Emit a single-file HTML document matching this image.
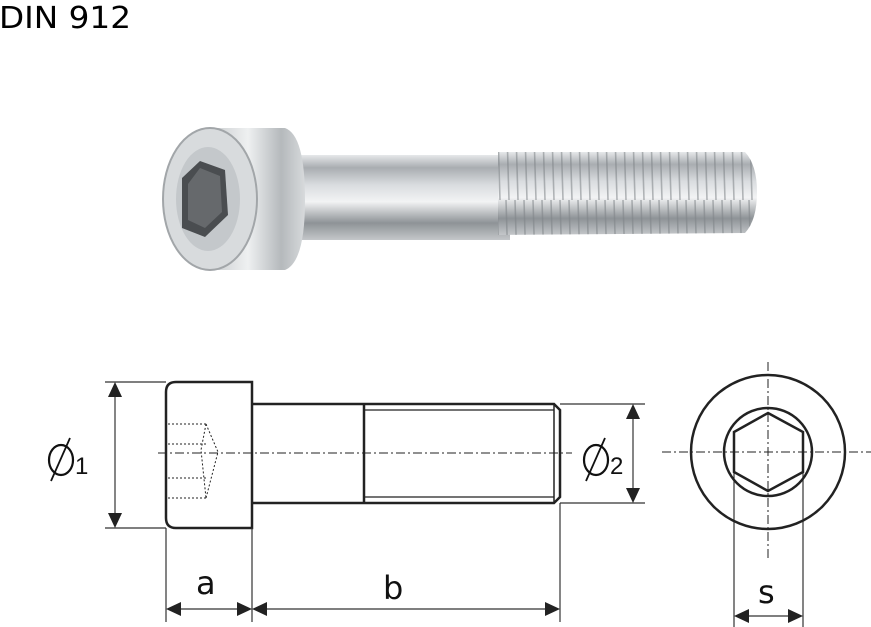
<!DOCTYPE html>
<html><head><meta charset="utf-8"><style>
html,body{margin:0;padding:0;background:#fff;}
body{width:871px;height:627px;overflow:hidden;position:relative;}
svg{position:absolute;left:0;top:0;}
</style></head><body>
<svg width="871" height="627" viewBox="0 0 871 627" xmlns="http://www.w3.org/2000/svg" font-family="DejaVu Sans, Liberation Sans, sans-serif">
<defs>
<linearGradient id="gv" x1="0" y1="0" x2="0" y2="1">
<stop offset="0" stop-color="#e6e8ea"/><stop offset="0.15" stop-color="#a9adb1"/><stop offset="0.35" stop-color="#d9dcdf"/><stop offset="0.55" stop-color="#f2f3f4"/><stop offset="0.8" stop-color="#8e9397"/><stop offset="1" stop-color="#c4c7ca"/>
</linearGradient>
<linearGradient id="gh" x1="0" y1="0" x2="1" y2="0">
<stop offset="0" stop-color="#c9ccce"/><stop offset="0.4" stop-color="#eef0f1"/><stop offset="0.75" stop-color="#b5b9bc"/><stop offset="1" stop-color="#d7dadc"/>
</linearGradient>
<pattern id="thr" width="9" height="100" patternUnits="userSpaceOnUse">
<rect width="9" height="100" fill="none"/><path d="M2 0 L5 100" stroke="#7d8286" stroke-width="1.6" opacity="0.55"/>
</pattern>
</defs>
<text x="-1" y="28" font-size="30" fill="#000" textLength="132" lengthAdjust="spacingAndGlyphs">DIN 912</text>

<!-- photo -->
<rect x="300" y="155" width="210" height="85" fill="url(#gv)"/>
<path d="M498 152 L745 152 Q757 165 757 192 Q757 220 745 233 L498 235 Z" fill="url(#gv)"/>
<path d="M498 152 L745 152 Q757 165 757 192 Q757 220 745 233 L498 235 Z" fill="url(#thr)"/>
<path d="M210 128 L285 128 Q305 135 305 200 Q305 262 285 270 L210 270 Z" fill="url(#gh)"/>
<ellipse cx="210" cy="199" rx="47" ry="71" fill="#d8dbdd" stroke="#a2a6a9" stroke-width="2"/>
<ellipse cx="208" cy="199" rx="32" ry="52" fill="#c4c8cb"/>
<polygon points="200,161 225,170 228,215 205,237 182,228 182,178" fill="#4a4d50"/>
<polygon points="200,168 220,176 222,212 205,228 188,220 188,184" fill="#66696c"/>

<!-- side view -->
<g stroke="#222" fill="none">
<path d="M176 382 L252 382 L252 528 L176 528 Q166 528 166 518 L166 392 Q166 382 176 382 Z" stroke-width="2.5"/>
<path d="M252 404 L554 404 L560 410 L560 497 L554 503 L252 503" stroke-width="2.5"/>
<line x1="364" y1="404" x2="364" y2="503" stroke-width="2.5"/>
<line x1="364" y1="410" x2="554" y2="410" stroke-width="1.2"/>
<line x1="364" y1="497" x2="554" y2="497" stroke-width="1.2"/>
<line x1="554" y1="404" x2="554" y2="503" stroke-width="1.5"/>
<g stroke-width="1" stroke-dasharray="2,2">
<line x1="168" y1="424" x2="206" y2="424"/><line x1="168" y1="444" x2="206" y2="444"/>
<line x1="168" y1="478" x2="206" y2="478"/><line x1="168" y1="498" x2="206" y2="498"/>
<path d="M206 424 L218 452 L206 498 M206 424 L201 450 L206 498"/>
</g>
<line x1="158" y1="453" x2="572" y2="453" stroke-width="1" stroke-dasharray="9,3,2,3"/>
<g stroke-width="1.2" stroke="#333">
<line x1="105" y1="382" x2="166" y2="382"/><line x1="105" y1="528" x2="166" y2="528"/>
<line x1="115" y1="392" x2="115" y2="518"/>
<line x1="560" y1="404" x2="645" y2="404"/><line x1="560" y1="503" x2="645" y2="503"/>
<line x1="633" y1="414" x2="633" y2="493"/>
<line x1="166" y1="528" x2="166" y2="622"/><line x1="252" y1="528" x2="252" y2="622"/><line x1="560" y1="503" x2="560" y2="622"/>
<line x1="176" y1="609" x2="242" y2="609"/><line x1="262" y1="609" x2="550" y2="609"/>
<line x1="734" y1="453" x2="734" y2="627"/><line x1="803" y1="453" x2="803" y2="627"/>
<line x1="744" y1="616" x2="793" y2="616"/>
</g>
<!-- diameter symbols -->
<g stroke="#111" stroke-width="2.2">
<ellipse cx="61" cy="460" rx="12" ry="15"/><line x1="51" y1="481" x2="70" y2="438" stroke-width="1.8"/>
<ellipse cx="596" cy="460" rx="12" ry="15"/><line x1="586" y1="481" x2="605" y2="438" stroke-width="1.8"/>
</g>
</g>
<g fill="#222">
<polygon points="115,382 108,397 122,397"/><polygon points="115,528 108,513 122,513"/>
<polygon points="633,404 626,419 640,419"/><polygon points="633,503 626,488 640,488"/>
<polygon points="166,609 181,602 181,616"/><polygon points="252,609 237,602 237,616"/>
<polygon points="252,609 267,602 267,616"/><polygon points="560,609 545,602 545,616"/>
<polygon points="734,616 749,609 749,623"/><polygon points="803,616 788,609 788,623"/>
</g>
<g font-family="Liberation Sans, sans-serif" fill="#111">
<text x="75" y="474" font-size="24">1</text>
<text x="610" y="474" font-size="24">2</text>
</g>
<text x="196" y="594" font-size="32" fill="#111">a</text>
<text x="383" y="599" font-size="32" fill="#111">b</text>
<text x="758" y="603" font-size="32" fill="#111">s</text>

<!-- end view -->
<g stroke="#222" fill="none">
<circle cx="768" cy="452" r="77" stroke-width="2.5"/>
<circle cx="768" cy="452" r="44" stroke-width="2.5"/>
<polygon points="768,413 803,432 803,472 768,491 734,472 734,432" stroke-width="2.5"/>
<line x1="662" y1="452" x2="871" y2="452" stroke-width="1" stroke-dasharray="9,3,2,3"/>
<line x1="768" y1="362" x2="768" y2="558" stroke-width="1" stroke-dasharray="9,3,2,3"/>
</g>
</svg>
</body></html>
